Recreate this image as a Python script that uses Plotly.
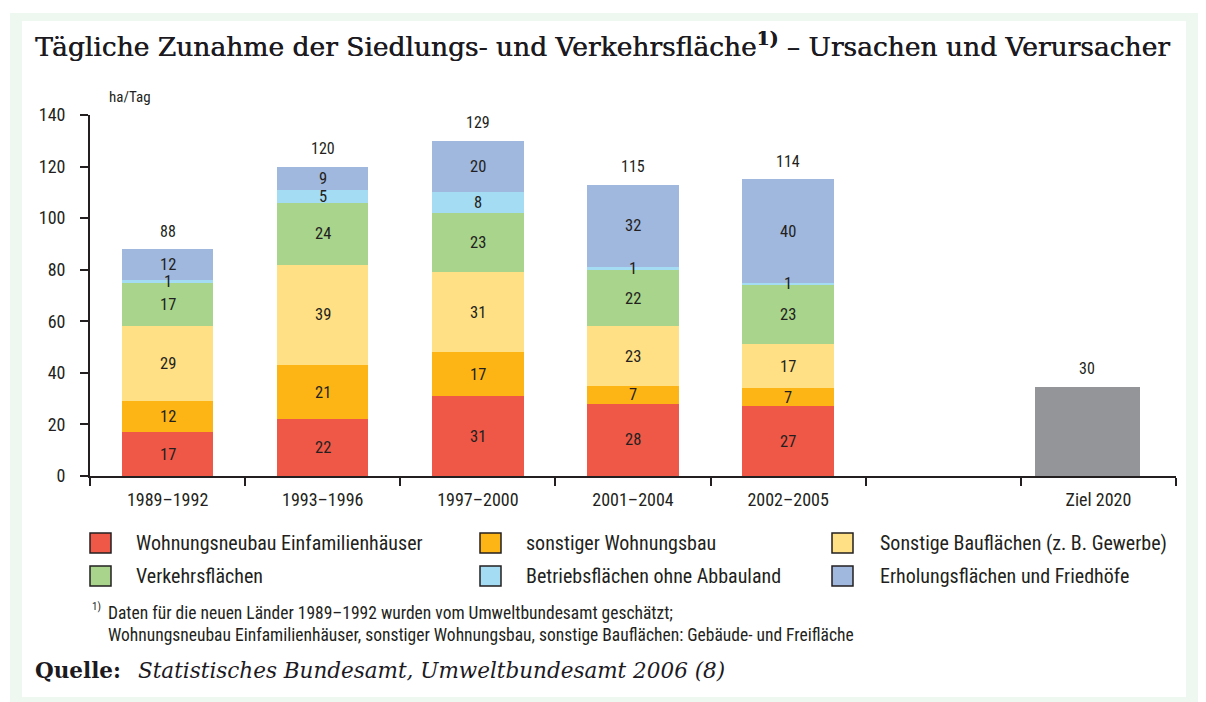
import plotly.graph_objects as go

# ---------------- data ----------------
periods = ["1989–1992", "1993–1996", "1997–2000", "2001–2004", "2002–2005"]
goal_category = "Ziel 2020"
series_names = [
    "Wohnungsneubau Einfamilienhäuser",
    "sonstiger Wohnungsbau",
    "Sonstige Bauflächen (z. B. Gewerbe)",
    "Verkehrsflächen",
    "Betriebsflächen ohne Abbauland",
    "Erholungsflächen und Friedhöfe",
]
wohnungsneubau_efh = [17, 22, 31, 28, 27]
sonstiger_wohnungsbau = [12, 21, 17, 7, 7]
sonstige_bauflaechen = [29, 39, 31, 23, 17]
verkehrsflaechen = [17, 24, 23, 22, 23]
betriebsflaechen = [1, 5, 8, 1, 1]
erholungsflaechen = [12, 9, 20, 32, 40]
totals = [88, 120, 129, 115, 114]
goal_label = 30
goal_bar_drawn = 34.5  # height as drawn in the reference
y_ticks = [0, 20, 40, 60, 80, 100, 120, 140]

series_values = [wohnungsneubau_efh, sonstiger_wohnungsbau, sonstige_bauflaechen,
                 verkehrsflaechen, betriebsflaechen, erholungsflaechen]
colors = ["#ef5847", "#fdb515", "#ffe084", "#a8d48b", "#a4dcf3", "#a0b7de"]
goal_color = "#949599"

TXT = "#231f20"
COND = "Liberation Sans Narrow, Roboto Condensed, DejaVu Sans Condensed, Arial Narrow, Roboto, sans-serif"
SERIF = "DejaVu Serif, Liberation Serif, serif"
THICK = "0.45px 0px 0px #1c1a1f"

# page body has an 8px margin -> figure is placed at (8, 8)
OFF = 8
W, H = 1206 - OFF, 702 - OFF
L, R, T, B = 90, 1176, 115, 476  # plot area in page pixels


def px(x):
    return (x - L) / (R - L)


def py(y):
    return (B - y) / (B - T)


fig = go.Figure()
for name, vals, col in zip(series_names, series_values, colors):
    fig.add_trace(go.Bar(
        x=periods, y=vals, name=name, marker=dict(color=col, line=dict(width=0)),
        showlegend=False, hoverinfo="skip",
    ))

fig.add_trace(go.Bar(
    x=[goal_category], y=[goal_bar_drawn], marker=dict(color=goal_color, line=dict(width=0)),
    width=[0.68], offset=[-0.41], showlegend=False, hoverinfo="skip",
))

annotations = []
# segment labels
for i, p in enumerate(periods):
    base = 0
    for vals in series_values:
        v = vals[i]
        annotations.append(dict(x=p, y=base + v / 2, xref="x", yref="y", text=str(v),
                                showarrow=False, yanchor="middle",
                                font=dict(family=COND, size=16.5, color=TXT)))
        base += v
    annotations.append(dict(x=p, y=base, xref="x", yref="y", text=str(totals[i]),
                            showarrow=False, yanchor="middle", yshift=18,
                            font=dict(family=COND, size=16, color=TXT)))
annotations.append(dict(x=goal_category, y=goal_bar_drawn, xref="x", yref="y",
                        text=str(goal_label), showarrow=False, yanchor="middle",
                        yshift=19, xshift=-11,
                        font=dict(family=COND, size=16, color=TXT)))

# title
annotations.append(dict(x=px(33), y=py(45), xref="paper", yref="paper", xanchor="left",
                        yanchor="middle", showarrow=False,
                        text="Tägliche Zunahme der Siedlungs- und Verkehrsfläche<sup><b>1)</b></sup> – Ursachen und Verursacher",
                        font=dict(family=SERIF, size=26.5, color="#1c1a1f", shadow=THICK)))
# unit
annotations.append(dict(x=px(107), y=py(97), xref="paper", yref="paper", xanchor="left",
                        yanchor="middle", showarrow=False, text="ha/Tag",
                        font=dict(family=COND, size=15, color=TXT)))

# legend (drawn)
shapes = []
col_box = [90, 480, 832]
col_txt = [134, 524, 878]
row_y = [543, 576]
for i, (name, col) in enumerate(zip(series_names, colors)):
    r, c = divmod(i, 3)
    x0 = col_box[c]
    yc = row_y[r]
    shapes.append(dict(type="rect", xref="paper", yref="paper",
                       x0=px(x0), x1=px(x0 + 21), y0=py(yc + 10), y1=py(yc - 10),
                       fillcolor=col, line=dict(color=TXT, width=1.5)))
    annotations.append(dict(x=px(col_txt[c]), y=py(yc), xref="paper", yref="paper",
                            xanchor="left", yanchor="middle", showarrow=False, text=name,
                            font=dict(family=COND, size=20, color=TXT)))

# footnote
annotations.append(dict(x=px(90), y=py(606), xref="paper", yref="paper", xanchor="left",
                        yanchor="middle", showarrow=False, text="1)",
                        font=dict(family=COND, size=11, color=TXT)))
annotations.append(dict(x=px(106), y=py(613), xref="paper", yref="paper", xanchor="left",
                        yanchor="middle", showarrow=False,
                        text="Daten für die neuen Länder 1989–1992 wurden vom Umweltbundesamt geschätzt;",
                        font=dict(family=COND, size=17.5, color=TXT)))
annotations.append(dict(x=px(106), y=py(635), xref="paper", yref="paper", xanchor="left",
                        yanchor="middle", showarrow=False,
                        text="Wohnungsneubau Einfamilienhäuser, sonstiger Wohnungsbau, sonstige Bauflächen: Gebäude- und Freifläche",
                        font=dict(family=COND, size=17.5, color=TXT)))
# source
annotations.append(dict(x=px(33), y=py(670), xref="paper", yref="paper", xanchor="left",
                        yanchor="middle", showarrow=False, text="<b>Quelle:</b>",
                        font=dict(family=SERIF, size=21.5, color="#1c1a1f")))
annotations.append(dict(x=px(136), y=py(670), xref="paper", yref="paper", xanchor="left",
                        yanchor="middle", showarrow=False,
                        text="<i>Statistisches Bundesamt, Umweltbundesamt 2006 (8)</i>",
                        font=dict(family=SERIF, size=21.5, color="#1c1a1f")))

# background frame
bg_shapes = [
    dict(type="rect", xref="paper", yref="paper", layer="below",
         x0=px(10), x1=px(1210), y0=py(706), y1=py(13),
         fillcolor="#eef7f0", line=dict(width=0)),
    dict(type="rect", xref="paper", yref="paper", layer="below",
         x0=px(22), x1=px(1186), y0=py(697), y1=py(21),
         fillcolor="#ffffff", line=dict(width=0)),
]

fig.update_layout(
    width=W, height=H,
    margin=dict(l=L - OFF, r=W - (R - OFF), t=T - OFF, b=H - (B - OFF), pad=0),
    paper_bgcolor="white", plot_bgcolor="rgba(0,0,0,0)",
    barmode="stack", bargap=0.41,
    shapes=bg_shapes + shapes,
    annotations=annotations,
    xaxis=dict(type="category", categoryorder="array",
               categoryarray=periods + [" ", goal_category],
               range=[-0.5, 6.5], tickson="boundaries",
               ticks="outside", ticklen=8, tickwidth=1.5, tickcolor=TXT,
               showline=True, linecolor=TXT, linewidth=1.8,
               showgrid=False, zeroline=False, fixedrange=True,
               ticklabelstandoff=6,
               tickfont=dict(family=COND, size=18, color=TXT)),
    yaxis=dict(range=[0, 140], tickvals=y_ticks, ticktext=[str(v) for v in y_ticks],
               ticks="outside", ticklen=8, tickwidth=1.5, tickcolor=TXT,
               showline=True, linecolor=TXT, linewidth=1.8,
               showgrid=False, zeroline=False, fixedrange=True,
               ticklabelstandoff=11,
               tickfont=dict(family=COND, size=18, color=TXT)),
    showlegend=False,
)

fig.write_html("out.html")
